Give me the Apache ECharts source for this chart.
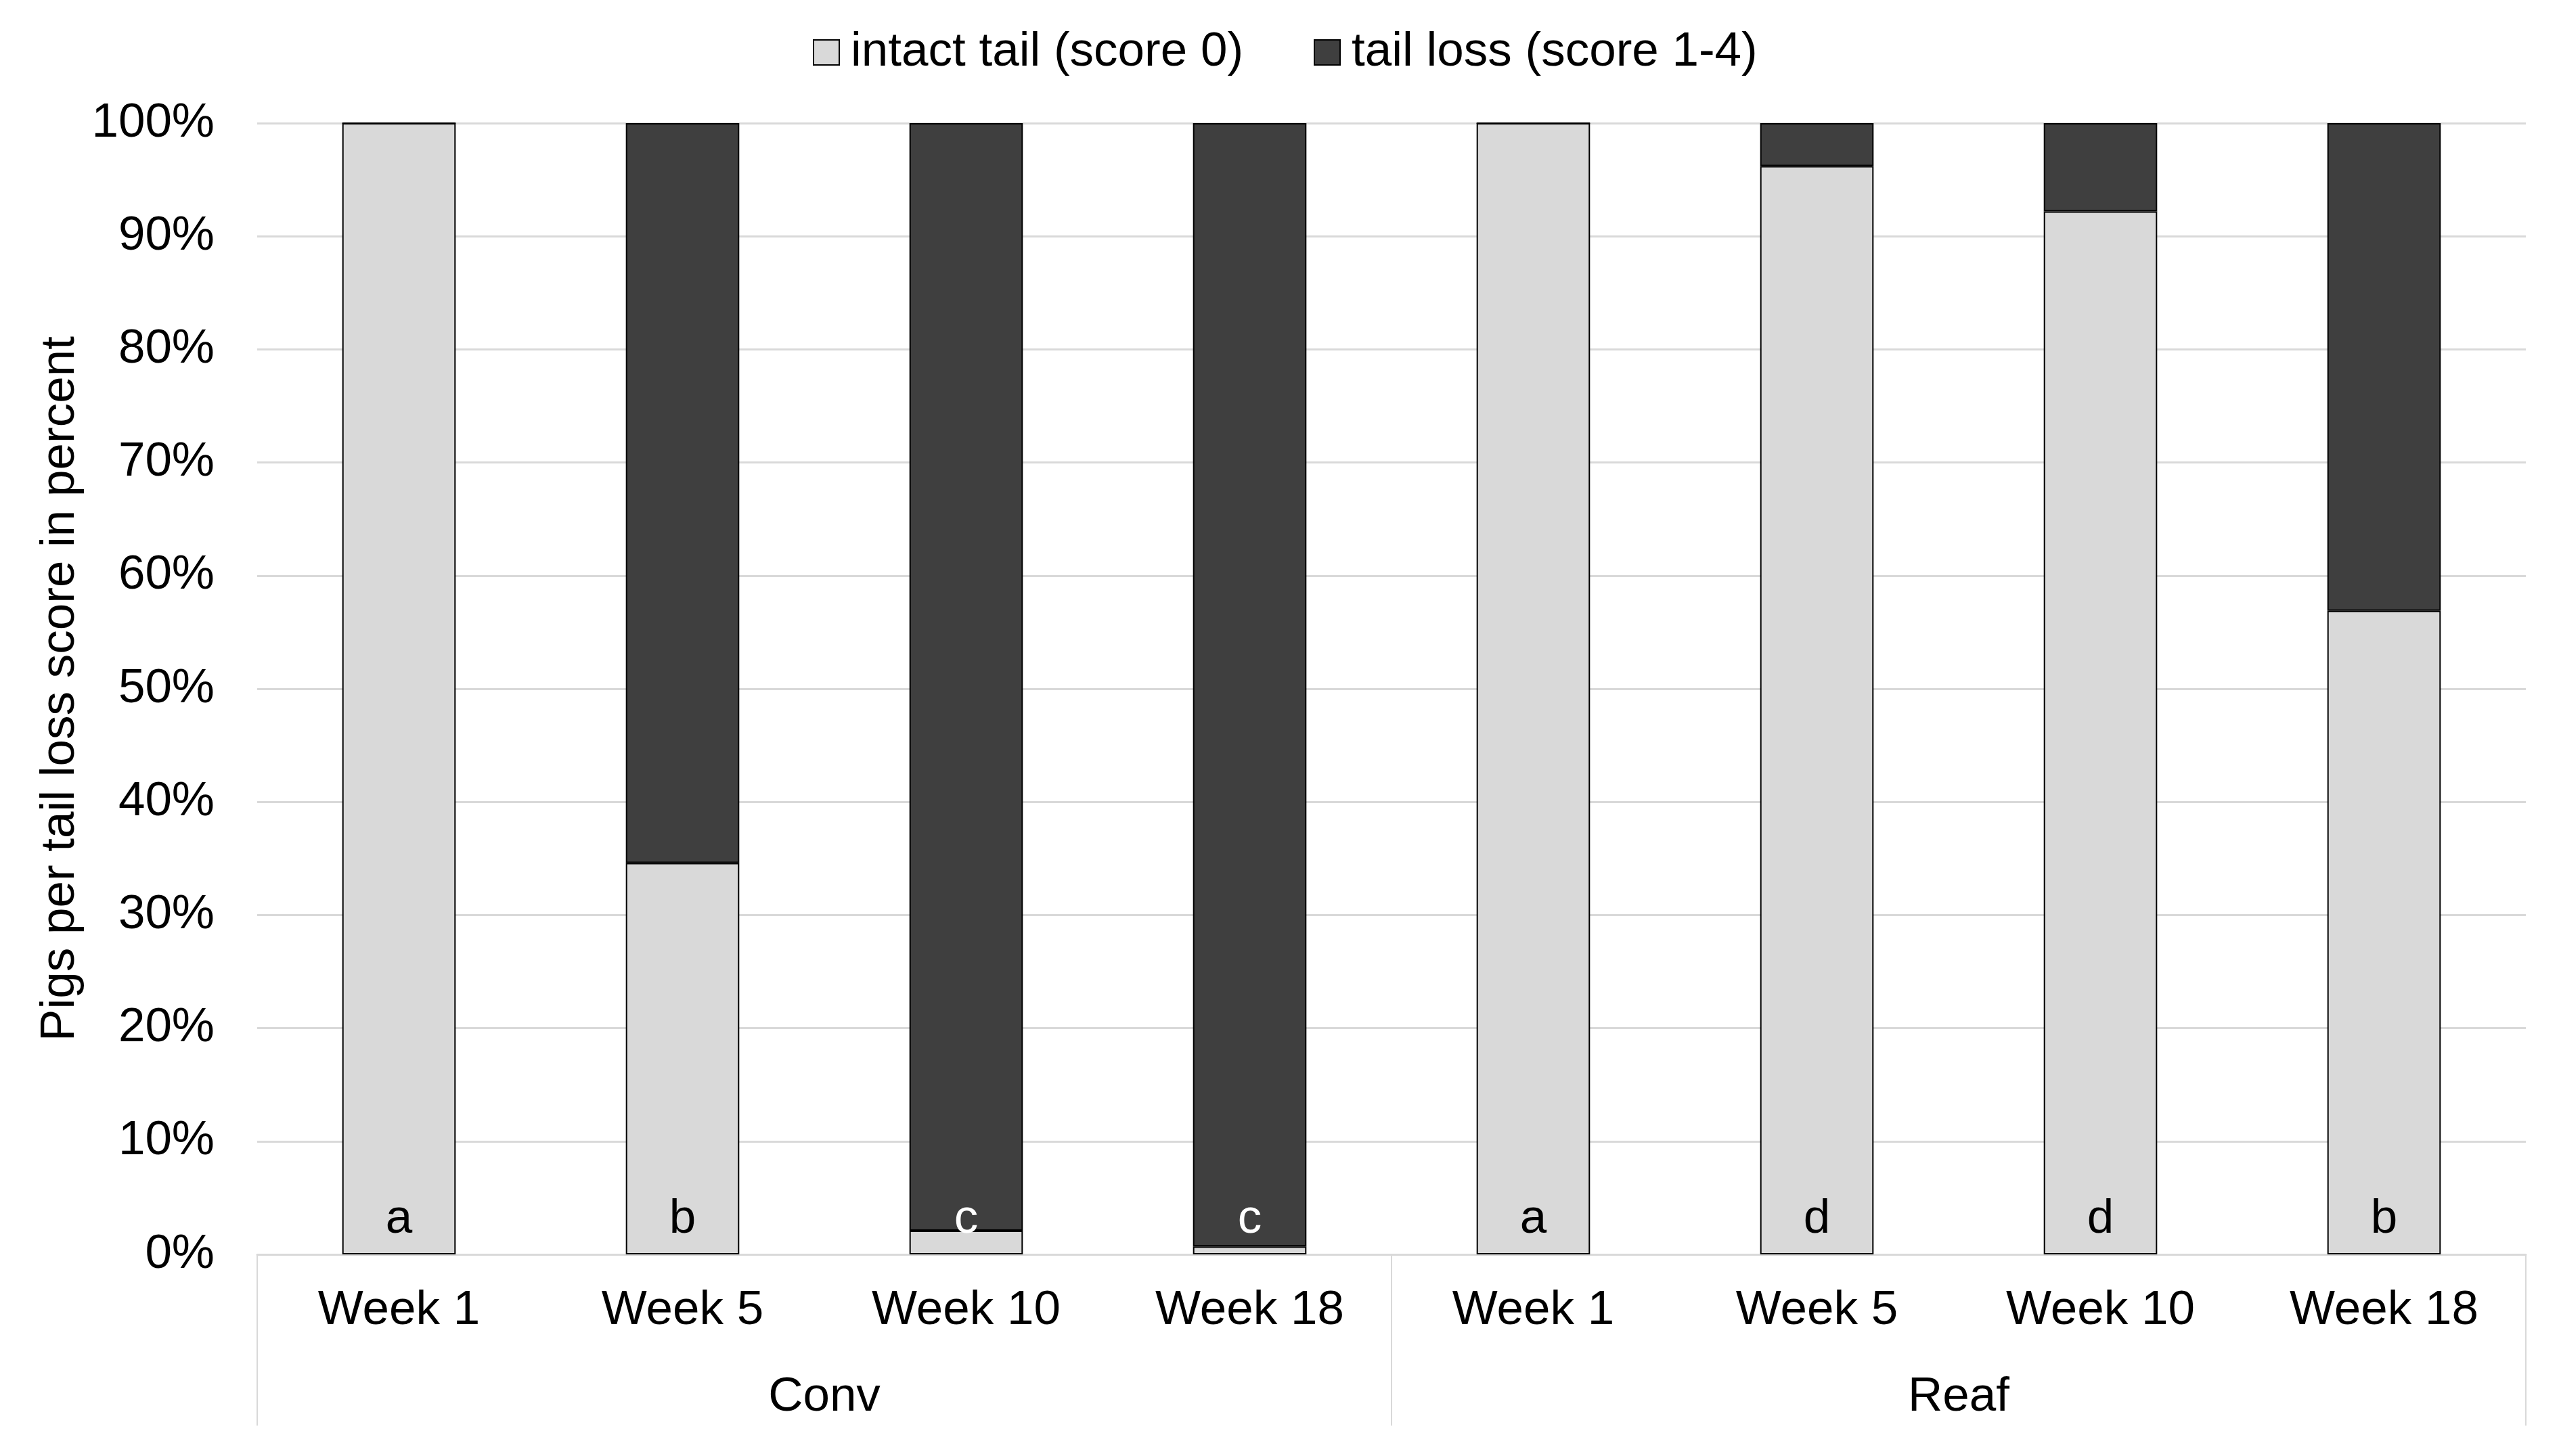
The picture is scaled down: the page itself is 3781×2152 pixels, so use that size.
<!DOCTYPE html>
<html>
<head>
<meta charset="utf-8">
<script src="https://cdn.jsdelivr.net/npm/echarts@6/dist/echarts.min.js"></script>
<style>
html,body{margin:0;padding:0;background:#fff;}
#chart{width:3781px;height:2152px;}
</style>
</head>
<body>
<div id="chart"></div>
<script>
const categories = ['Week 1', 'Week 5', 'Week 10', 'Week 18', 'Week 1', 'Week 5', 'Week 10', 'Week 18'];
const groups = ['Conv', 'Reaf'];
const intactTail = [100, 34.6, 2.1, 0.7, 100, 96.2, 92.2, 56.9];
const tailLoss = [0, 65.4, 97.9, 99.3, 0, 3.8, 7.8, 43.1];
const letters = ['a', 'b', 'c', 'c', 'a', 'd', 'd', 'b'];
const seriesNames = ['intact tail (score 0)', 'tail loss (score 1-4)'];
const yAxisTitle = 'Pigs per tail loss score in percent';

const FONT = 'Liberation Sans, Arial, sans-serif';
const FS = 71;
const LIGHT = '#D9D9D9';
const DARK = '#3F3F3F';
const GRID = '#D9D9D9';

const chart = echarts.init(document.getElementById('chart'), null, {renderer: 'canvas'});

const intactData = intactTail.map((v, i) => ({
  value: v,
  label: { color: v < 10 ? '#FFFFFF' : '#000000' }
}));

chart.setOption({
  backgroundColor: '#fff',
  animation: false,
  textStyle: { fontFamily: FONT },
  legend: {
    left: 1196,
    top: 37,
    itemWidth: 38,
    itemHeight: 37,
    itemGap: 104,
    icon: 'rect',
    itemStyle: { borderColor: '#000', borderWidth: 2 },
    textStyle: { fontSize: FS, color: '#000', fontFamily: FONT, lineHeight: 71, padding: [0, 0, 0, 12] },
    data: seriesNames
  },
  grid: { left: 380, right: 49, top: 182, bottom: 298, containLabel: false },
  xAxis: [
    {
      type: 'category',
      data: categories,
      position: 'bottom',
      axisLine: { show: true, lineStyle: { color: GRID, width: 3 } },
      axisTick: { show: false },
      axisLabel: { fontSize: FS, color: '#000', fontFamily: FONT, margin: 48, lineHeight: 71, interval: 0 },
      splitLine: { show: false }
    },
    {
      type: 'category',
      data: groups,
      position: 'bottom',
      axisLine: { show: false },
      axisTick: { show: true, length: 253, lineStyle: { color: GRID, width: 2 } },
      axisLabel: { fontSize: FS, color: '#000', fontFamily: FONT, margin: 176, lineHeight: 71, interval: 0 },
      splitLine: { show: false }
    }
  ],
  yAxis: {
    type: 'value',
    min: 0,
    max: 100,
    interval: 10,
    name: yAxisTitle,
    nameLocation: 'middle',
    nameGap: 250,
    nameTextStyle: { fontSize: FS, color: '#000', fontFamily: FONT },
    axisLine: { show: false },
    axisTick: { show: false },
    axisLabel: { formatter: '{value}%', fontSize: FS, color: '#000', fontFamily: FONT, margin: 63 },
    splitLine: { show: true, lineStyle: { color: GRID, width: 3 } }
  },
  series: [
    {
      name: seriesNames[0],
      type: 'bar',
      stack: 'total',
      xAxisIndex: 0,
      barWidth: '40%',
      data: intactData,
      itemStyle: { color: LIGHT, borderColor: '#000', borderWidth: 2 },
      label: {
        show: true,
        position: 'insideBottom',
        distance: 16,
        fontSize: FS,
        fontFamily: FONT,
        lineHeight: 71,
        formatter: p => letters[p.dataIndex]
      },
      z: 2
    },
    {
      name: seriesNames[1],
      type: 'bar',
      stack: 'total',
      xAxisIndex: 0,
      barWidth: '40%',
      data: tailLoss,
      itemStyle: { color: DARK, borderColor: '#000', borderWidth: 2 },
      z: 2
    }
  ]
});
</script>
</body>
</html>
